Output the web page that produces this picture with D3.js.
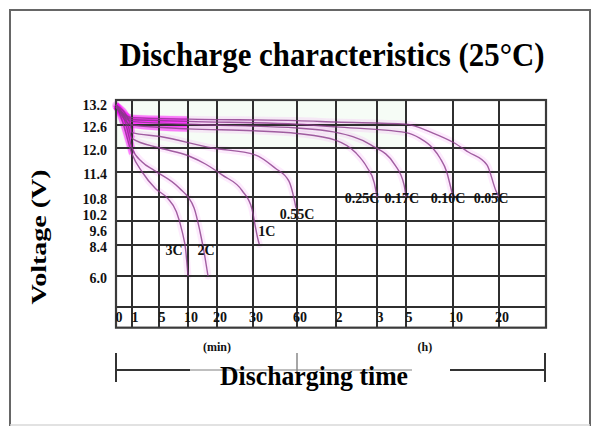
<!DOCTYPE html>
<html><head><meta charset="utf-8">
<script src="https://cdn.jsdelivr.net/npm/d3@7/dist/d3.min.js"></script>
<style>body{margin:0;background:#fff;} svg{display:block;}</style>
</head><body><svg id="c" width="598" height="438"></svg>
<script>
// ---------- data ----------
const titleText = "Discharge characteristics (25°C)";
const yAxisTitle = "Voltage (V)";
const xAxisTitle = "Discharging time";
const timeTicks = [0, 1, 5, 10, 20, 30, 60, 120, 180, 300, 600, 1200];   // minutes
const timeTickLabels = ["0", "1", "5", "10", "20", "30", "60", "2", "3", "5", "10", "20"];
const voltTicks = [13.2, 12.6, 12.0, 11.4, 10.8, 10.2, 9.6, 8.4, 6.0];
const voltTickLabels = ["13.2", "12.6", "12.0", "11.4", "10.8", "10.2", "9.6", "8.4", "6.0"];
const gridVolts = [12.6, 12.0, 11.4, 10.8, 9.9, 8.4, 6.0, 3.6];
const unitLabels = ["(min)", "(h)"];
const unitTimes = [20, 421];

const rates = ["3C", "2C", "1C", "0.55C", "0.25C", "0.17C", "0.10C", "0.05C"];
const t3C = [0, 0.4, 1, 2.5, 4.5, 6.5, 8, 9, 9.6, 10];
const v3C = [13.15, 12.7, 11.85, 11.4, 11.0, 10.75, 10.25, 9.4, 8.0, 6.0];
const t2C = [0, 0.6, 1, 2.5, 4.4, 8.45, 12.1, 14.1, 15.9, 16.9];
const v2C = [13.15, 12.65, 12.0, 11.65, 11.43, 11.02, 10.39, 9.45, 7.39, 6.0];
const t1C = [0, 0.75, 1, 5.2, 10.3, 16, 21.4, 27, 29.7, 31.4, 33, 34.3];
const v1C = [13.15, 12.6, 12.25, 12.0, 11.8, 11.6, 11.33, 10.95, 10.36, 9.75, 9.0, 8.45];
const t055C = [0, 0.87, 1, 5.2, 18.3, 31.4, 45, 54.5, 57.9, 59.3];
const v055C = [13.15, 12.65, 12.4, 12.3, 12.0, 11.83, 11.5, 11.18, 10.76, 10.39];
const t025C = [0, 1, 10, 30, 60, 120, 149, 166, 176, 180];
const v025C = [13.1, 12.6, 12.5, 12.45, 12.38, 12.2, 11.88, 11.5, 11.14, 10.8];
const t017C = [0, 1, 10, 60, 116, 171, 254, 292, 300];
const v017C = [13.1, 12.7, 12.62, 12.52, 12.42, 12.08, 11.58, 11.09, 10.8];
const t010C = [0, 1, 10, 60, 120, 300, 390, 470, 517, 560, 581, 600];
const v010C = [13.1, 12.75, 12.7, 12.62, 12.55, 12.4, 12.25, 12.0, 11.75, 11.4, 11.1, 10.8];
const t005C = [0, 1, 10, 60, 120, 300, 472, 600, 800, 1043, 1160, 1200];
const v005C = [13.1, 12.8, 12.76, 12.72, 12.68, 12.62, 12.39, 12.15, 11.9, 11.58, 10.95, 10.8];
// label anchor (minutes, volts)
const labelTimes = [7.6, 16.2, 39.5, 60, 158, 283, 568, 1096];
const labelVolts = [7.94, 7.94, 9.45, 10.16, 10.76, 10.76, 10.76, 10.76];

const seriesT = [t3C, t2C, t1C, t055C, t025C, t017C, t010C, t005C];
const seriesV = [v3C, v2C, v1C, v055C, v025C, v017C, v010C, v005C];

// ---------- scales ----------
const tMax = 1830, vTop = 13.28, vBottom = 2.0;
const x = d3.scaleLinear()
  .domain(timeTicks.concat([tMax]))
  .range([116, 132, 159, 188, 217, 253, 297, 336, 377, 406, 453, 499, 546]);
const y = d3.scaleLinear()
  .domain([vTop, 13.2, 12.6, 12.0, 11.4, 10.8, 10.2, 9.6, 8.4, 6.0])
  .range([100, 103, 125, 148, 172, 197, 213, 229, 245, 276]);

const svg = d3.select("#c");
const serif = "'Liberation Serif','Times New Roman',serif";

// outer frame
svg.append("rect").attr("x", 0).attr("y", 0).attr("width", 598).attr("height", 438).attr("fill", "#fff");
svg.append("path").attr("d", "M10,426 L10,10 L590,10 L590,426")
  .attr("fill", "none").attr("stroke", "#666").attr("stroke-width", 2);
svg.append("line").attr("x1", 10).attr("x2", 590).attr("y1", 425).attr("y2", 425)
  .attr("stroke", "#d8d8d8").attr("stroke-width", 1.5);

// title
svg.append("text").attr("x", 332).attr("y", 66)
  .attr("text-anchor", "middle").attr("font-family", serif).attr("font-weight", "bold")
  .attr("font-size", 34).attr("textLength", 425).attr("lengthAdjust", "spacingAndGlyphs")
  .attr("fill", "#000").text(titleText);

const x0 = x(0), x1 = x(tMax), yT = y(vTop), yB = y(vBottom);

// faint tint
svg.append("rect").attr("x", x0).attr("y", yT).attr("width", x(300) - x0).attr("height", y(12.0) - yT)
  .attr("fill", "#f6fcf6");

const line = d3.line().x(d => x(d[0])).y(d => y(d[1])).curve(d3.curveMonotoneX);
const seriesPts = seriesT.map((ts, i) => ts.map((t, j) => [t, seriesV[i][j]]));

// halos
const gHalo = svg.append("g");
seriesPts.forEach(pts => {
  gHalo.append("path").attr("d", line(pts)).attr("fill", "none")
    .attr("stroke", "#f080f0").attr("stroke-opacity", 0.16).attr("stroke-width", 7)
    .attr("stroke-linecap", "round");
});
// start blob
seriesPts.forEach(pts => {
  gHalo.append("path").attr("d", line(pts.slice(0, 3))).attr("fill", "none")
    .attr("stroke", "#ff00ff").attr("stroke-opacity", 0.45).attr("stroke-width", 6);
});

// grid
const gGrid = svg.append("g").attr("stroke", "#2f2f2f").attr("stroke-width", 2);
timeTicks.slice(1).forEach(t => {
  gGrid.append("line").attr("x1", x(t)).attr("x2", x(t)).attr("y1", yT).attr("y2", yB);
});
gridVolts.forEach(v => {
  gGrid.append("line").attr("x1", x0).attr("x2", x1).attr("y1", y(v)).attr("y2", y(v));
});
svg.append("rect").attr("x", x0).attr("y", yT).attr("width", x1 - x0).attr("height", yB - yT)
  .attr("fill", "none").attr("stroke", "#3a3a3a").attr("stroke-width", 2.2);

// curves
const gCurve = svg.append("g");
seriesPts.forEach(pts => {
  gCurve.append("path").attr("d", line(pts)).attr("fill", "none")
    .attr("stroke", "#8a3a8a").attr("stroke-opacity", 0.8).attr("stroke-width", 1.4);
});

// curve labels
rates.forEach((r, i) => {
  svg.append("text").attr("x", x(labelTimes[i])).attr("y", y(labelVolts[i]) + 4.5)
    .attr("text-anchor", "middle").attr("font-family", serif).attr("font-weight", "bold")
    .attr("font-size", 14).attr("fill", "#111").text(r);
});

// y tick labels
voltTicks.forEach((v, i) => {
  svg.append("text").attr("x", 107).attr("y", y(v) + 6.5)
    .attr("text-anchor", "end").attr("font-family", serif).attr("font-weight", "bold")
    .attr("font-size", 14).attr("fill", "#111").text(voltTickLabels[i]);
});

// x tick labels
timeTicks.forEach((t, i) => {
  svg.append("text").attr("x", x(t) + 3).attr("y", 322)
    .attr("text-anchor", "middle").attr("font-family", serif).attr("font-weight", "bold")
    .attr("font-size", 14).attr("fill", "#111").text(timeTickLabels[i]);
});

// unit labels
unitLabels.forEach((u, i) => {
  svg.append("text").attr("x", x(unitTimes[i])).attr("y", 351)
    .attr("text-anchor", "middle").attr("font-family", serif).attr("font-weight", "bold")
    .attr("font-size", 12).attr("fill", "#111").text(u);
});

// y axis title
svg.append("text").attr("transform", "translate(46,237) rotate(-90)")
  .attr("text-anchor", "middle").attr("font-family", serif).attr("font-weight", "bold")
  .attr("font-size", 22).attr("textLength", 135).attr("lengthAdjust", "spacingAndGlyphs")
  .attr("fill", "#000").text(yAxisTitle);

// x axis bracket
const bY = 370, xm = x(60);
const gB = svg.append("g").attr("stroke", "#333").attr("stroke-width", 2);
gB.append("line").attr("x1", x0).attr("x2", x0).attr("y1", bY - 17).attr("y2", bY + 12);
gB.append("line").attr("x1", x1 - 1).attr("x2", x1 - 1).attr("y1", bY - 17).attr("y2", bY + 12);
gB.append("line").attr("x1", x0).attr("x2", x0 + 74).attr("y1", bY).attr("y2", bY);
gB.append("line").attr("x1", 450).attr("x2", x1 - 1).attr("y1", bY).attr("y2", bY);
svg.append("line").attr("x1", x0 + 74).attr("x2", 412).attr("y1", bY).attr("y2", bY)
  .attr("stroke", "#aaa").attr("stroke-width", 1.5);
svg.append("line").attr("x1", xm).attr("x2", xm).attr("y1", bY - 17).attr("y2", bY + 2)
  .attr("stroke", "#888").attr("stroke-width", 1.5);

svg.append("text").attr("x", 314).attr("y", 385)
  .attr("text-anchor", "middle").attr("font-family", serif).attr("font-weight", "bold")
  .attr("font-size", 28).attr("textLength", 188).attr("lengthAdjust", "spacingAndGlyphs")
  .attr("fill", "#000").text(xAxisTitle);
</script></body></html>
